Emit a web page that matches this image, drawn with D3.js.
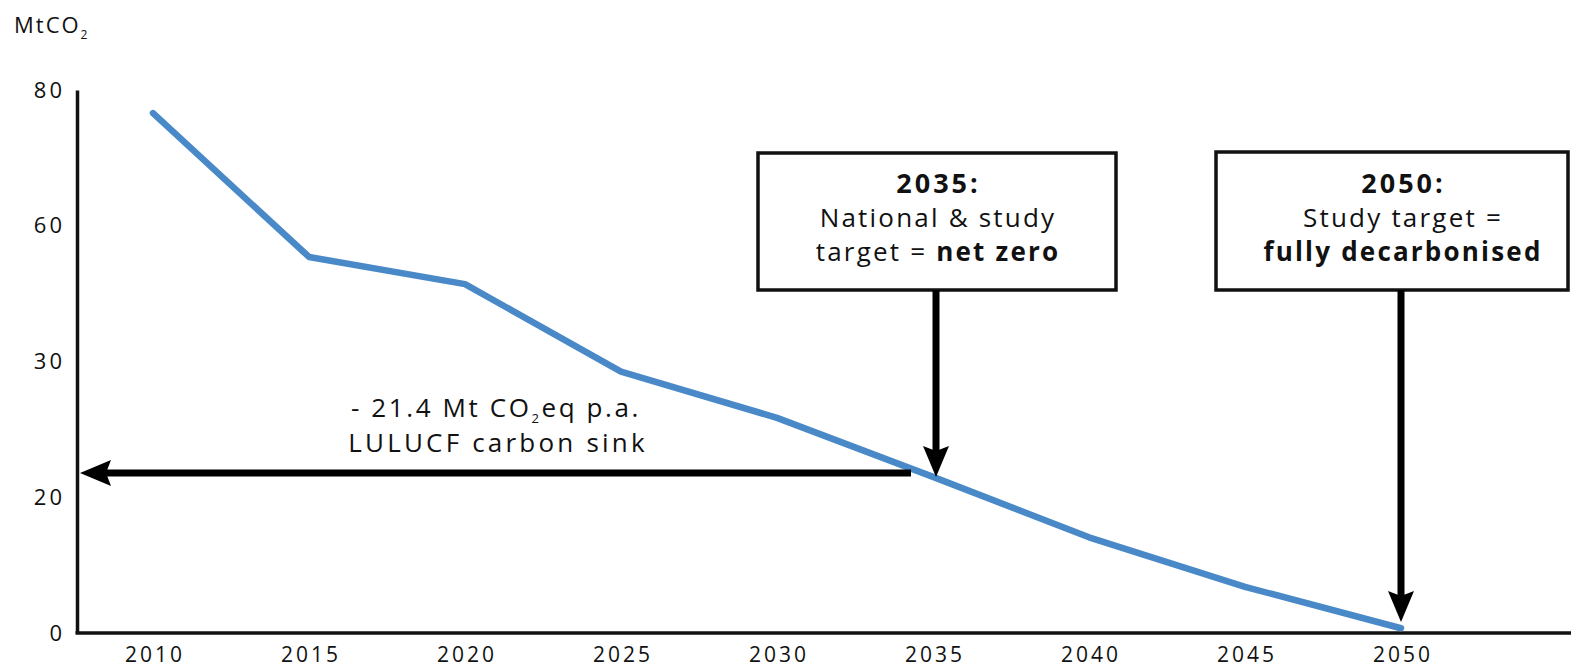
<!DOCTYPE html>
<html>
<head>
<meta charset="utf-8">
<script src="https://cdn.jsdelivr.net/npm/d3@7"></script>
<style>
  html, body { margin: 0; padding: 0; background: #fff; }
  svg { display: block; }
  text { font-family: "Open Sans", "Noto Sans", sans-serif; fill: #111; }
</style>
</head>
<body>
<svg id="chart" width="1571" height="669"></svg>
<script>
// ---- data ----
const years = [2010, 2015, 2020, 2025, 2030, 2035, 2040, 2045, 2050];
const emissions = [76.6, 55.4, 51.4, 38.5, 31.7, 23.0, 14.1, 6.8, 0.7];
const yTickValues = [0, 20, 40, 60, 80];
const yTickLabels = ["0", "20", "30", "60", "80"];
const xTickValues = [2010, 2015, 2020, 2025, 2030, 2035, 2040, 2045, 2050];
const unitLabel = "MtCO";
const sinkLines = ["- 21.4 Mt CO", "eq p.a.", "LULUCF carbon sink"];
const box2035 = { head: "2035:", line1: "National & study", line2a: "target = ", line2b: "net zero" };
const box2050 = { head: "2050:", line1: "Study target =", line2b: "fully decarbonised" };

// ---- layout ----
const W = 1571, H = 669;
const svg = d3.select("#chart");
const x = d3.scaleLinear().domain([2010, 2050]).range([153, 1401]);
const y = d3.scaleLinear().domain([0, 80]).range([633, 90]);
const axisX0 = 77;

// y axis
const yAxis = d3.axisLeft(y)
  .tickValues(yTickValues)
  .tickFormat((d, i) => yTickLabels[i])
  .tickSize(0).tickSizeOuter(0).tickPadding(12);
const gy = svg.append("g").attr("transform", `translate(${axisX0},0)`).call(yAxis);
gy.select(".domain").attr("stroke", "#111").attr("stroke-width", 3.5);
gy.selectAll("text").style("font-size", "22px").style("letter-spacing", "3px")
  .style("font-family", "'Open Sans', sans-serif").attr("fill", "#111");

// x axis
const xAxis = d3.axisBottom(x).tickValues(xTickValues).tickFormat(d3.format("d"))
  .tickSize(0).tickSizeOuter(0).tickPadding(14);
const gx = svg.append("g").attr("transform", `translate(0,${y(0)})`).call(xAxis);
gx.select(".domain").remove();
gx.selectAll("text").style("font-size", "21px").style("letter-spacing", "3px")
  .style("font-family", "'Open Sans', sans-serif").attr("fill", "#111")
  .attr("dx", "1.5px");
svg.append("line").attr("x1", axisX0 - 1.5).attr("x2", W).attr("y1", y(0)).attr("y2", y(0))
  .attr("stroke", "#111").attr("stroke-width", 3.5);

// unit label
const ut = svg.append("text").attr("x", 14).attr("y", 33)
  .style("font-size", "22px").style("letter-spacing", "2px");
ut.append("tspan").text(unitLabel);
ut.append("tspan").text("2").style("font-size", "12px").attr("dy", 6);

// line
const line = d3.line().x((d, i) => x(years[i])).y(d => y(d));
svg.append("path").datum(emissions).attr("d", line)
  .attr("fill", "none").attr("stroke", "#4a89c8").attr("stroke-width", 6.5)
  .attr("stroke-linejoin", "round").attr("stroke-linecap", "round");

// arrow helper
function arrowHead(tx, ty, angleDeg) {
  svg.append("path")
    .attr("d", "M0,0 L-31,-13 L-26,0 L-31,13 Z")
    .attr("transform", `translate(${tx},${ty}) rotate(${angleDeg})`)
    .attr("fill", "#000");
}

// horizontal sink arrow
const sinkY = 473;
svg.append("line").attr("x1", 911).attr("x2", 100).attr("y1", sinkY).attr("y2", sinkY)
  .attr("stroke", "#000").attr("stroke-width", 7);
arrowHead(80, sinkY, 180);

// sink label
const st = svg.append("text").attr("x", 496).attr("y", 417).attr("text-anchor", "middle")
  .style("font-size", "26px").style("letter-spacing", "2.6px");
st.append("tspan").text(sinkLines[0]);
st.append("tspan").text("2").style("font-size", "13px").attr("dy", 6);
st.append("tspan").text(sinkLines[1]).attr("dy", -6);
svg.append("text").attr("x", 498).attr("y", 452).attr("text-anchor", "middle")
  .style("font-size", "26px").style("letter-spacing", "3.2px").text(sinkLines[2]);

// boxes
function box(x0, x1, y0, y1, cx, cfg) {
  svg.append("rect").attr("x", x0).attr("y", y0).attr("width", x1 - x0).attr("height", y1 - y0)
    .attr("fill", "#fff").attr("stroke", "#111").attr("stroke-width", 3.5);
  svg.append("text").attr("x", cx + 1.5).attr("y", 193).attr("text-anchor", "middle")
    .style("font-size", "27px").style("font-weight", "700").style("letter-spacing", "3px")
    .text(cfg.head);
  svg.append("text").attr("x", cx + 1).attr("y", 227).attr("text-anchor", "middle")
    .style("font-size", "26px").style("letter-spacing", "2.2px").text(cfg.line1);
  const t = svg.append("text").attr("x", cx + 1).attr("y", 261).attr("text-anchor", "middle")
    .style("font-size", "26px").style("letter-spacing", "2.2px");
  if (cfg.line2a) t.append("tspan").text(cfg.line2a);
  t.append("tspan").text(cfg.line2b).style("font-weight", "700");
}
box(758, 1116, 153, 290, 937, box2035);
box(1216, 1568, 152, 290, 1402, box2050);

// vertical arrows
const ax35 = x(2035) + 3, tip35 = 477;
svg.append("line").attr("x1", ax35).attr("x2", ax35).attr("y1", 290).attr("y2", tip35 - 20)
  .attr("stroke", "#000").attr("stroke-width", 7);
arrowHead(ax35, tip35, 90);
const ax50 = x(2050), tip50 = 622;
svg.append("line").attr("x1", ax50).attr("x2", ax50).attr("y1", 290).attr("y2", tip50 - 20)
  .attr("stroke", "#000").attr("stroke-width", 7);
arrowHead(ax50, tip50, 90);
</script>
</body>
</html>
